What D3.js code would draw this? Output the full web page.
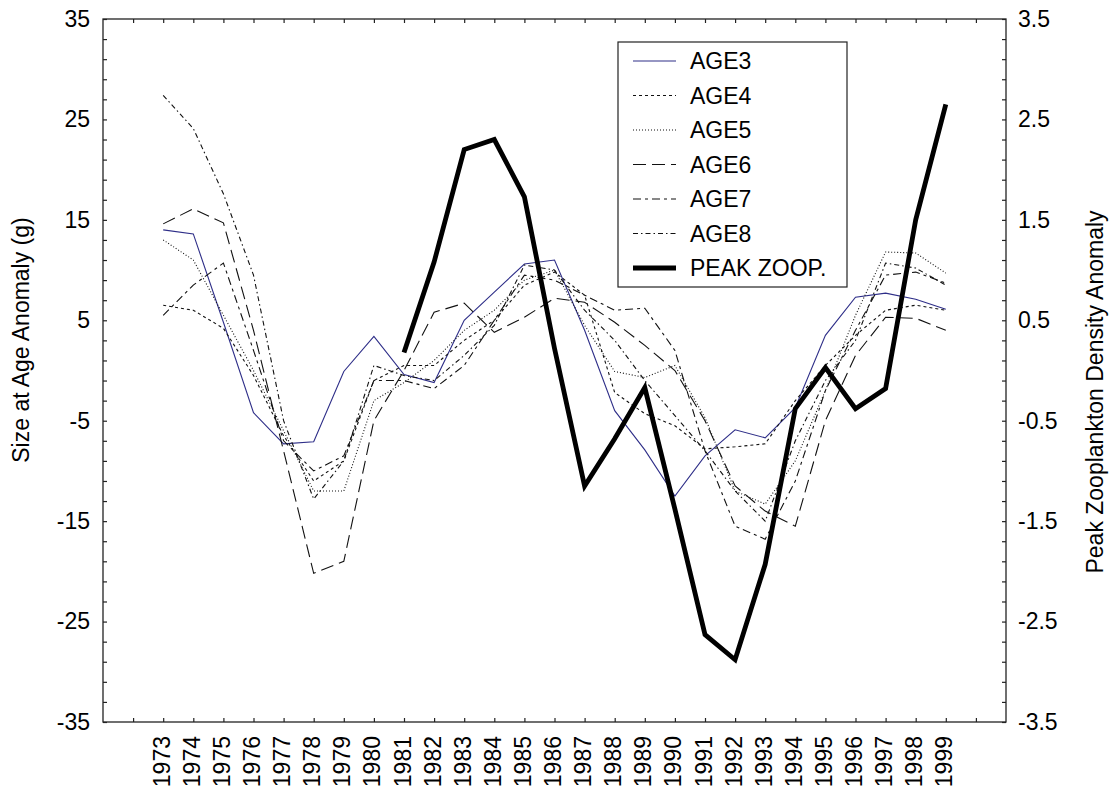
<!DOCTYPE html>
<html>
<head>
<meta charset="utf-8">
<script src="https://cdn.jsdelivr.net/npm/d3@7"></script>
<style>
  html, body { margin: 0; padding: 0; background: #fff; }
  svg { display: block; font-family: "Liberation Sans", Arial, sans-serif; }
</style>
</head>
<body>
<svg id="chart" width="1109" height="790"></svg>
<script>
const years = [1973,1974,1975,1976,1977,1978,1979,1980,1981,1982,1983,1984,1985,1986,1987,1988,1989,1990,1991,1992,1993,1994,1995,1996,1997,1998,1999];

const age3 = [14.0,13.6,4.8,-4.2,-7.3,-7.1,-0.1,3.4,-0.4,-1.2,5.0,7.8,10.6,11.0,4.0,-4.0,-7.9,-12.5,-8.5,-5.9,-6.7,-3.7,3.5,7.3,7.7,7.1,6.1];
const age4 = [6.5,6.0,4.2,-0.5,-6.5,-11.0,-9.0,-1.0,0.5,0.5,3.0,5.0,8.5,9.8,7.5,-2.2,-4.3,-5.5,-7.8,-7.6,-7.3,-3.0,0.5,3.5,6.0,6.5,6.0];
const age5 = [13.0,11.0,5.5,0.0,-6.0,-12.0,-12.0,-3.0,-1.2,1.0,4.0,6.0,9.0,10.0,4.5,-0.1,-0.7,0.5,-4.7,-12.0,-13.3,-9.0,-2.0,5.5,11.8,11.7,9.7];
const age6 = [14.6,16.1,14.7,4.0,-8.0,-20.2,-19.0,-5.0,0.0,5.8,6.7,3.8,5.3,7.2,6.8,4.8,2.5,0.0,-5.0,-11.5,-14.0,-15.5,-5.0,1.5,5.3,5.2,4.0];
const age7 = [5.5,8.5,10.7,2.0,-7.0,-10.0,-8.5,-1.0,-1.0,-1.8,0.5,5.0,9.5,9.0,7.5,6.0,6.2,2.0,-8.0,-15.5,-16.8,-11.0,-2.0,4.0,9.5,9.8,8.7];
const age8 = [27.4,24.1,17.6,9.5,-5.0,-12.8,-9.0,0.5,-0.5,-1.0,1.5,4.5,10.5,10.0,6.0,3.0,-1.0,-4.5,-8.0,-12.0,-15.0,-7.0,-1.0,3.0,10.7,10.2,8.5];

const zoopYears = [1981,1982,1983,1984,1985,1986,1987,1988,1989,1990,1991,1992,1993,1994,1995,1996,1997,1998,1999];
const peakZoop = [0.18,1.08,2.2,2.3,1.73,0.22,-1.15,-0.68,-0.17,-1.38,-2.63,-2.88,-1.93,-0.38,0.03,-0.38,-0.18,1.5,2.65];

const leftTicks = [35,25,15,5,-5,-15,-25,-35];
const rightTicks = [3.5,2.5,1.5,0.5,-0.5,-1.5,-2.5,-3.5];
const seriesNames = ["AGE3","AGE4","AGE5","AGE6","AGE7","AGE8","PEAK ZOOP."];

const svg = d3.select("#chart");
const L = 103, R = 1006, T = 19, B = 722;
const fs = 23;

const x = d3.scaleLinear().domain([1971, 2001]).range([L, R]);
const yL = d3.scaleLinear().domain([-35, 35]).range([B, T]);
const yR = d3.scaleLinear().domain([-3.5, 3.5]).range([B, T]);

// frame
svg.append("rect").attr("x", L).attr("y", T).attr("width", R - L).attr("height", B - T)
  .attr("fill", "none").attr("stroke", "#222").attr("stroke-width", 1.3);

const tickYears = d3.range(1972, 2001);
const minorL = d3.range(-35, 35.01, 2);

// axes with inward ticks
const axB = d3.axisBottom(x).tickValues(tickYears).tickSize(-4).tickFormat("");
const axT = d3.axisTop(x).tickValues(tickYears).tickSize(-4).tickFormat("");
const axL = d3.axisLeft(yL).tickValues(minorL).tickSize(-4).tickFormat("");
const axR = d3.axisRight(yR).tickValues(minorL.map(v => v / 10)).tickSize(-4).tickFormat("");

function styleAxis(g) {
  g.select(".domain").remove();
  g.selectAll(".tick line").attr("stroke", "#222").attr("stroke-width", 1.2);
}
svg.append("g").attr("transform", `translate(0,${B})`).call(axB).call(styleAxis);
svg.append("g").attr("transform", `translate(0,${T})`).call(axT).call(styleAxis);
svg.append("g").attr("transform", `translate(${L},0)`).call(axL).call(styleAxis);
svg.append("g").attr("transform", `translate(${R},0)`).call(axR).call(styleAxis);

// tick labels (plain hyphen minus, as in the reference)
const fmtInt = d => String(d);
const fmtOne = d => d.toFixed(1);

const lblL = d3.axisLeft(yL).tickValues(leftTicks).tickSize(0).tickPadding(13).tickFormat(fmtInt);
svg.append("g").attr("transform", `translate(${L},0)`).call(lblL)
  .call(g => { g.select(".domain").remove(); g.selectAll("text").attr("font-size", fs).attr("font-family", "Liberation Sans, Arial").attr("fill", "#000"); });

const lblR = d3.axisRight(yR).tickValues(rightTicks).tickSize(0).tickPadding(12).tickFormat(fmtOne);
svg.append("g").attr("transform", `translate(${R},0)`).call(lblR)
  .call(g => { g.select(".domain").remove(); g.selectAll("text").attr("font-size", fs).attr("font-family", "Liberation Sans, Arial").attr("fill", "#000"); });

const lblB = d3.axisBottom(x).tickValues(years).tickSize(0).tickPadding(0).tickFormat(fmtInt);
svg.append("g").attr("transform", `translate(0,${B})`).call(lblB)
  .call(g => {
    g.select(".domain").remove();
    g.selectAll("text")
      .attr("font-size", fs).attr("font-family", "Liberation Sans, Arial").attr("fill", "#000")
      .attr("transform", "rotate(-90)")
      .attr("text-anchor", "end")
      .attr("x", -14).attr("y", -2).attr("dy", "0.35em");
  });

// axis titles
svg.append("text").attr("transform", `translate(29,340) rotate(-90)`)
  .attr("text-anchor", "middle").attr("font-size", fs).attr("fill", "#000")
  .text("Size at Age Anomaly (g)");
svg.append("text").attr("transform", `translate(1103,392) rotate(-90)`)
  .attr("text-anchor", "middle").attr("font-size", fs).attr("fill", "#000")
  .text("Peak Zooplankton Density Anomaly");

// series
const styles = [
  { name: "AGE3", data: age3, color: "#2e2e88", width: 1.1, dash: null },
  { name: "AGE4", data: age4, color: "#111", width: 1.1, dash: "3,3" },
  { name: "AGE5", data: age5, color: "#111", width: 1.1, dash: "1,2" },
  { name: "AGE6", data: age6, color: "#111", width: 1.1, dash: "13,6" },
  { name: "AGE7", data: age7, color: "#111", width: 1.1, dash: "8,4,3,4" },
  { name: "AGE8", data: age8, color: "#111", width: 1.1, dash: "5,3,1.5,3" }
];

const lineL = d3.line().x(d => x(d[0])).y(d => yL(d[1]));
const lineR = d3.line().x(d => x(d[0])).y(d => yR(d[1]));

styles.forEach(s => {
  svg.append("path")
    .datum(years.map((yr, i) => [yr, s.data[i]]))
    .attr("d", lineL)
    .attr("fill", "none")
    .attr("stroke", s.color)
    .attr("stroke-width", s.width)
    .attr("stroke-dasharray", s.dash);
});

svg.append("path")
  .datum(zoopYears.map((yr, i) => [yr, peakZoop[i]]))
  .attr("d", lineR)
  .attr("fill", "none")
  .attr("stroke", "#000")
  .attr("stroke-width", 4.8)
  .attr("stroke-linejoin", "miter");

// legend
const lg = svg.append("g");
lg.append("rect").attr("x", 618).attr("y", 42).attr("width", 229).attr("height", 245)
  .attr("fill", "#fff").attr("stroke", "#222").attr("stroke-width", 1.2);
const legendItems = styles.concat([{ name: "PEAK ZOOP.", color: "#000", width: 4.8, dash: null }]);
legendItems.forEach((s, i) => {
  const yy = 61 + i * 34.5;
  lg.append("line").attr("x1", 633).attr("x2", 676).attr("y1", yy).attr("y2", yy)
    .attr("stroke", s.color).attr("stroke-width", s.width).attr("stroke-dasharray", s.dash);
  lg.append("text").attr("x", 690).attr("y", yy).attr("dy", "0.36em")
    .attr("font-size", fs).attr("fill", "#000").text(seriesNames[i]);
});
</script>
</body>
</html>
